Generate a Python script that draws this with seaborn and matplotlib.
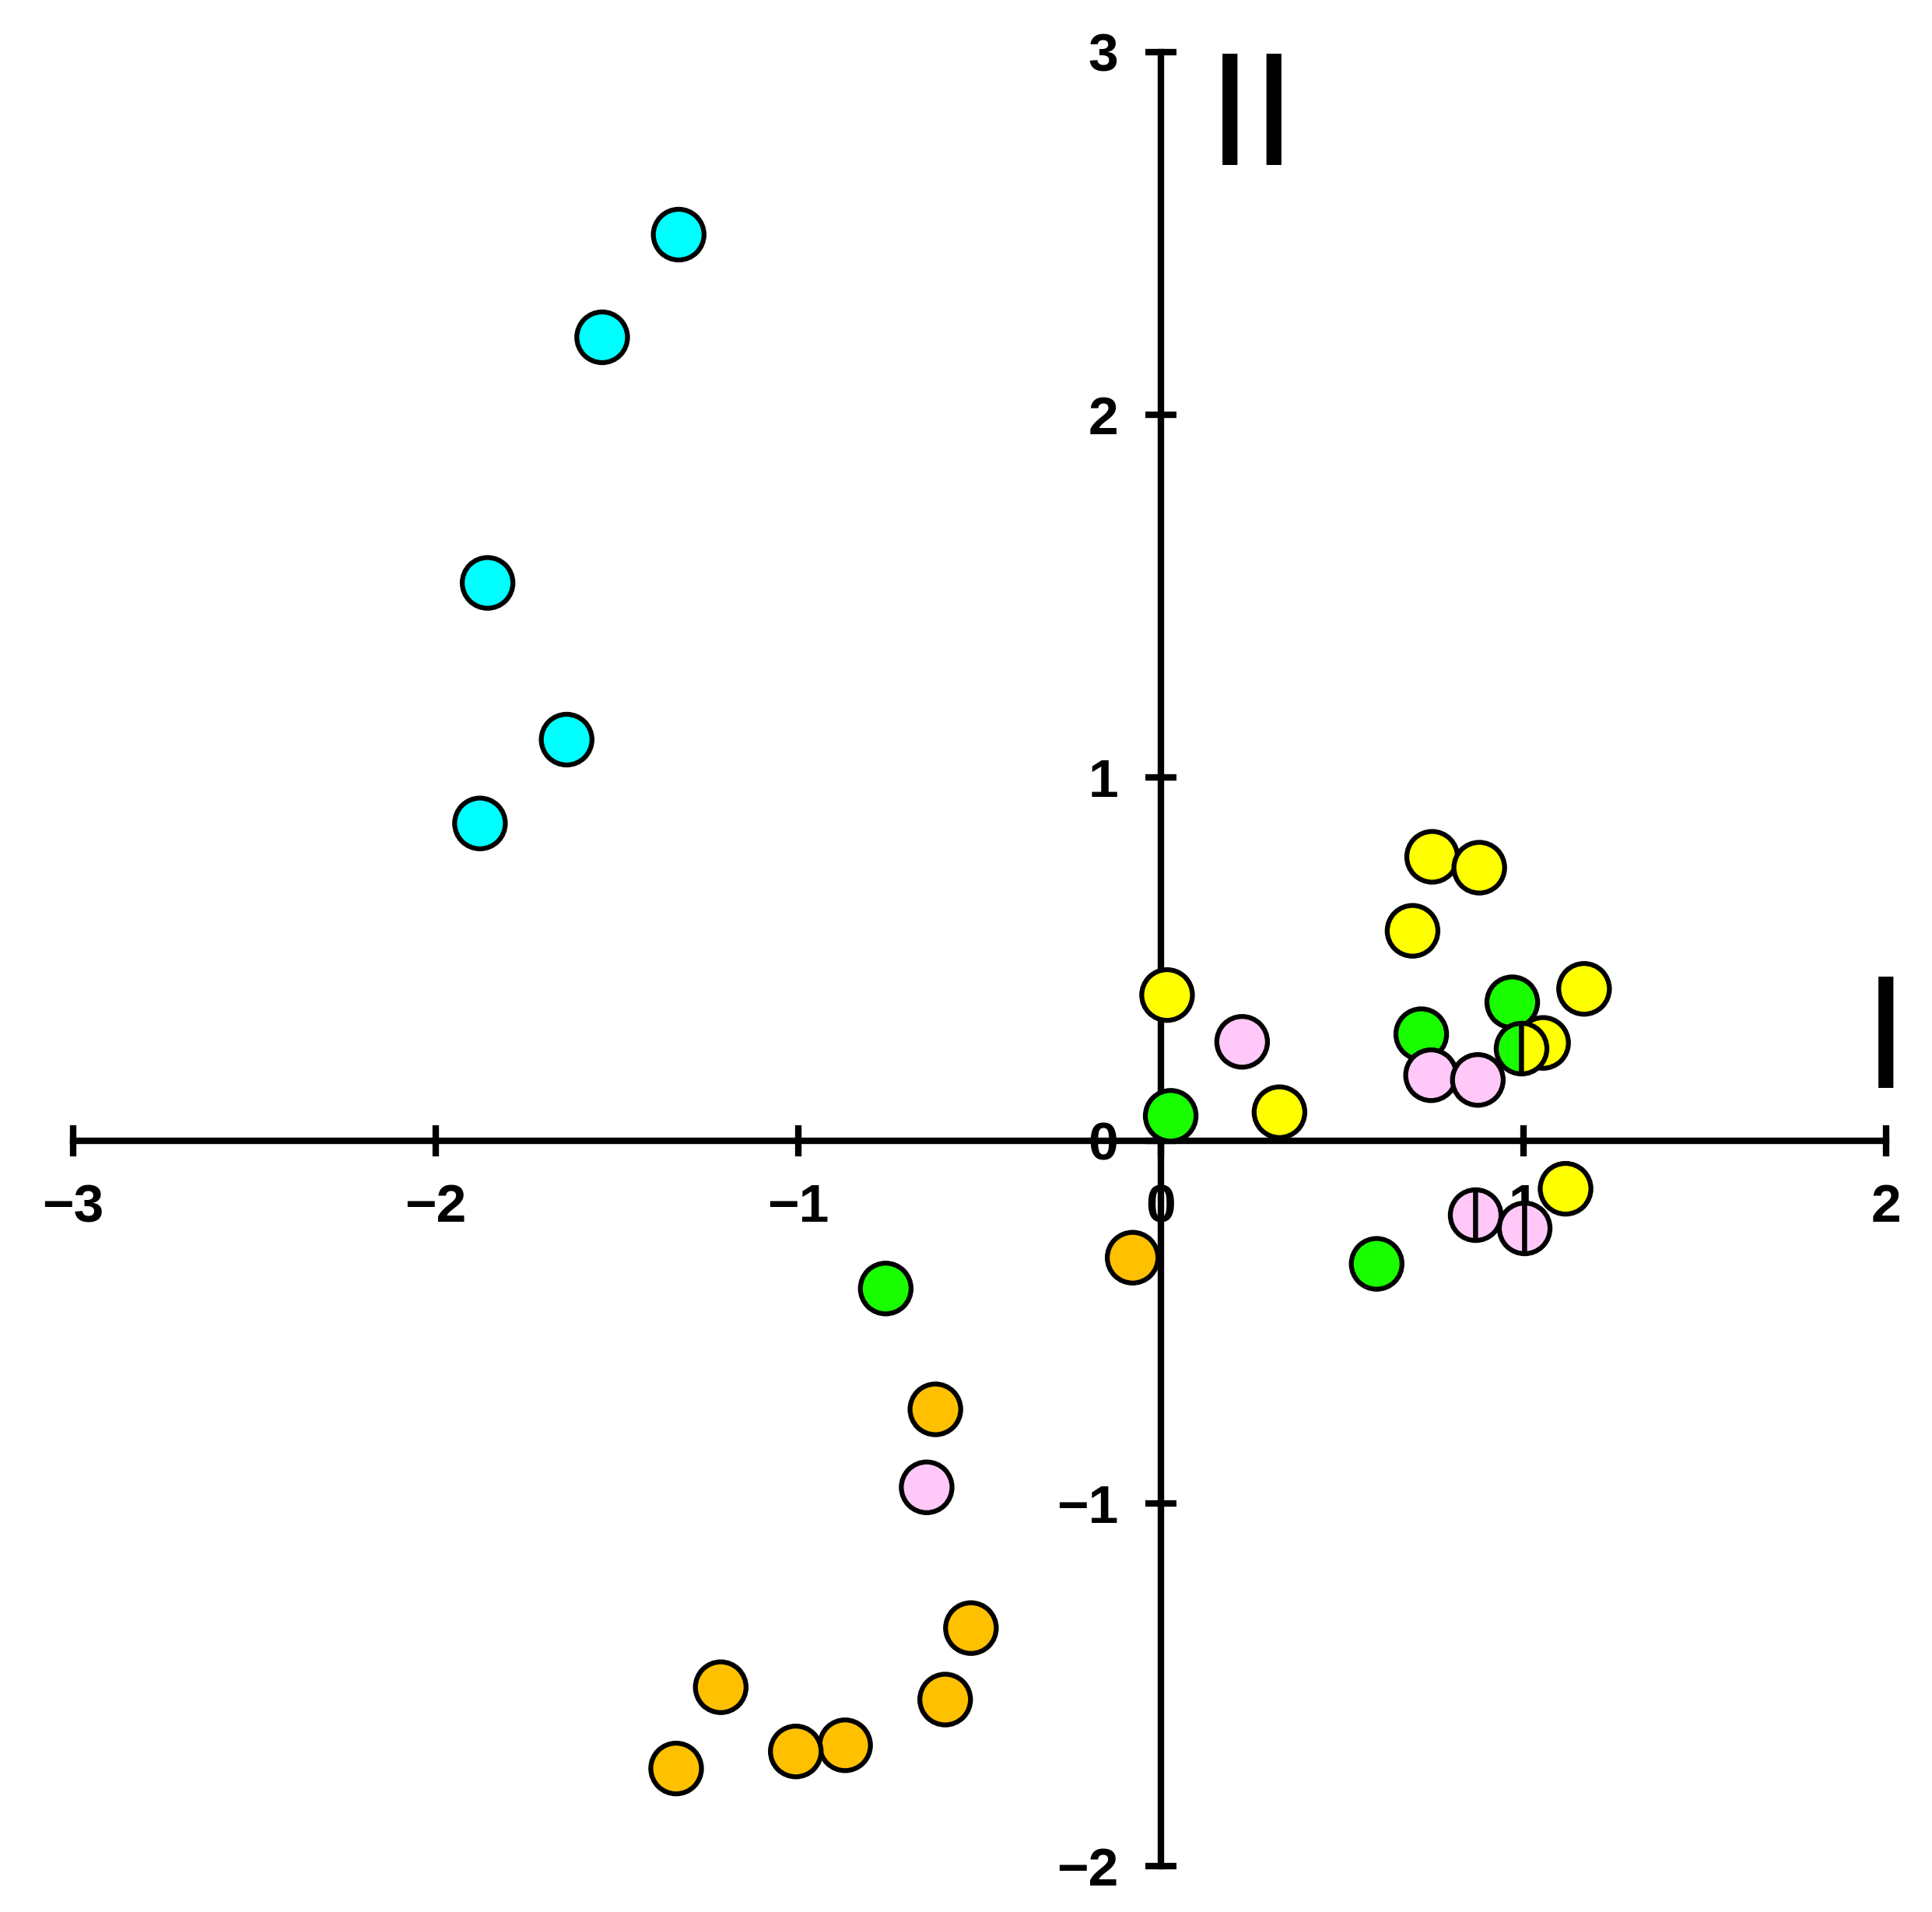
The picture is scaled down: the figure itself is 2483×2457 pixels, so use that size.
import matplotlib
matplotlib.use("Agg")
import matplotlib.pyplot as plt
import pandas as pd
import seaborn as sns

# ---- data (component I vs component II) ----
cyan_x = [-1.330, -1.541, -1.857, -1.639, -1.878]
cyan_y = [2.497, 2.214, 1.537, 1.105, 0.874]

orange_x = [-0.078, -0.622, -0.524, -1.214, -0.595, -0.871, -1.007, -1.337]
orange_y = [-0.323, -0.741, -1.344, -1.507, -1.541, -1.667, -1.684, -1.731]

yellow_x = [0.748, 0.878, 0.694, 1.167, 0.017, 1.054, 0.327, 1.116]
yellow_y = [0.782, 0.752, 0.578, 0.418, 0.401, 0.269, 0.078, -0.133]

green_x = [0.969, 0.718, 0.027, 0.595, -0.759]
green_y = [0.381, 0.293, 0.068, -0.340, -0.408]

pink_x = [0.224, 0.745, 0.874, -0.646]
pink_y = [0.272, 0.180, 0.167, -0.956]

# split markers: (x, y, left colour, right colour)
split_x = [0.993, 0.867, 1.003]
split_y = [0.255, -0.204, -0.241]
split_left = ["green", "pink", "pink"]
split_right = ["yellow", "pink", "pink"]

x_ticks = [-3, -2, -1, 0, 1, 2]
y_ticks = [-2, -1, 0, 1, 2, 3]

palette = {
    "cyan": "#00FFFF",
    "orange": "#FFC000",
    "yellow": "#FFFF00",
    "green": "#1AFF00",
    "pink": "#FFC8F8",
}

groups = [
    ("cyan", cyan_x, cyan_y),
    ("orange", orange_x, orange_y),
    ("yellow", yellow_x, yellow_y),
    ("green", green_x, green_y),
    ("pink", pink_x, pink_y),
]
rows = []
for name, xs, ys in groups:
    for x, y in zip(xs, ys):
        rows.append({"x": x, "y": y, "group": name})
df = pd.DataFrame(rows)

sns.set_style("white")
plt.rcParams["font.family"] = ["Liberation Sans", "DejaVu Sans"]
plt.rcParams["text.color"] = "black"
plt.rcParams["xtick.color"] = "black"
plt.rcParams["ytick.color"] = "black"

W, H = 2483, 2457
fig = plt.figure(figsize=(W / 100, H / 100), dpi=100)
ax = fig.add_axes([94 / W, 1 - 2398 / H, 2330 / W, 2331 / H])

marker_s = 2200
edge_w = 4.5

sns.scatterplot(data=df, x="x", y="y", hue="group", palette=palette,
                s=marker_s, edgecolor="black", linewidth=edge_w,
                legend=False, zorder=3, clip_on=False, ax=ax)

for x, y, lc, rc in zip(split_x, split_y, split_left, split_right):
    ax.plot([x], [y], marker="o", linestyle="none", fillstyle="left",
            markersize=marker_s ** 0.5, markerfacecolor=palette[lc],
            markerfacecoloralt=palette[rc], markeredgecolor="black",
            markeredgewidth=edge_w, zorder=4, clip_on=False)

ax.set_xlim(-3, 2)
ax.set_ylim(-2, 3)
ax.set_xticks(x_ticks)
ax.set_yticks(y_ticks)
ax.set_xlabel("")
ax.set_ylabel("")

for side in ["top", "right"]:
    ax.spines[side].set_visible(False)
for side in ["left", "bottom"]:
    ax.spines[side].set_position(("data", 0))
    ax.spines[side].set_linewidth(6)
    ax.spines[side].set_color("black")

ax.tick_params(axis="both", direction="inout", length=29, width=6,
               color="black", labelcolor="black", pad=25, labelsize=50,
               bottom=True, left=True, top=False, right=False)
for lab in ax.get_xticklabels() + ax.get_yticklabels():
    lab.set_fontweight("bold")

# component labels
ax.text(0.252, 2.689, "II", fontsize=149, ha="center", va="baseline",
        color="black", clip_on=False)
ax.text(2.0, 0.144, "I", fontsize=149, ha="center", va="baseline",
        color="black", clip_on=False)

fig.savefig("out.png", dpi=100)
